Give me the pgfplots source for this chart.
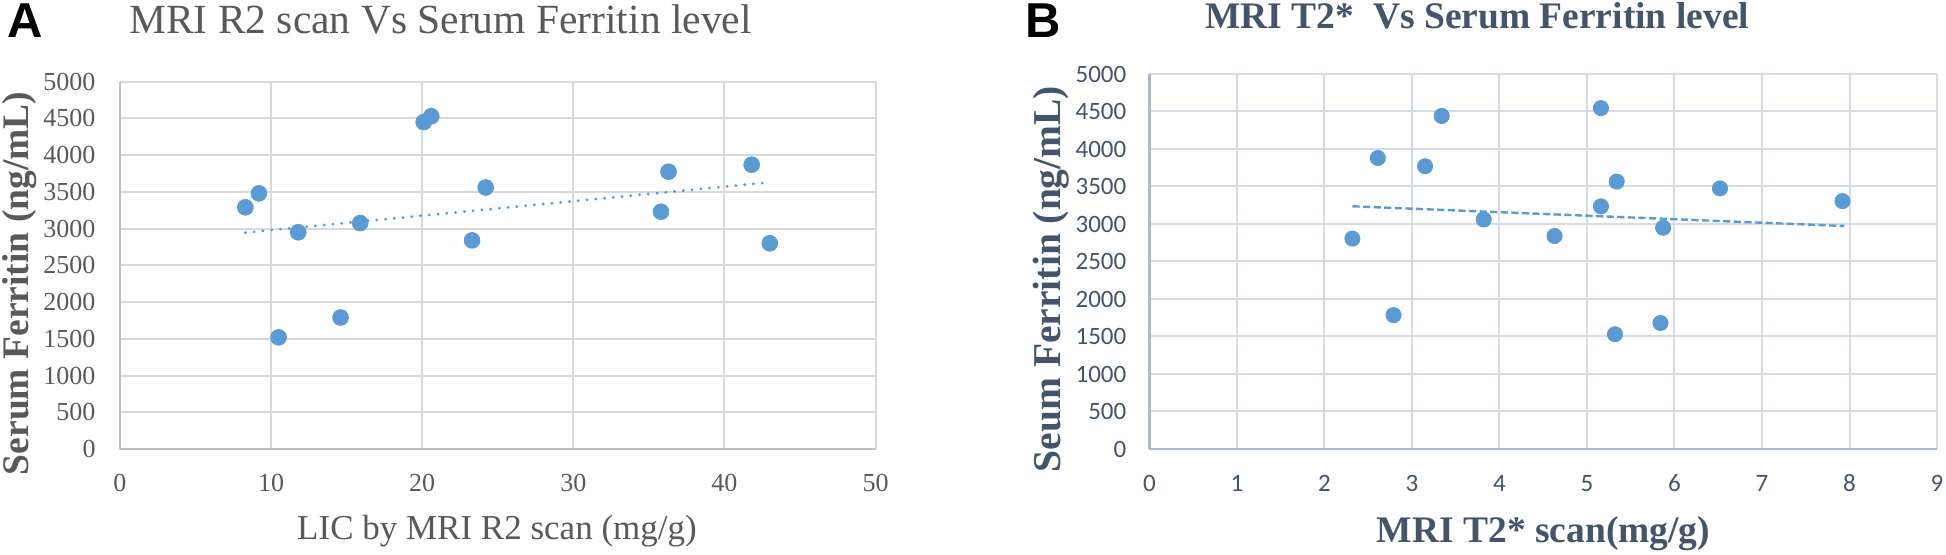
\documentclass[border=0pt]{standalone}
\usepackage{pgfplots}
\pgfplotsset{compat=1.18}
\usepackage{fontspec}
\setmainfont{Liberation Serif}
\newfontfamily\lsans{Liberation Sans}
\newfontfamily\carlito{Carlito}
\definecolor{agray}{HTML}{595959}
\definecolor{agrid}{HTML}{D9D9D9}
\definecolor{aaxis}{HTML}{BFBFBF}
\definecolor{slate}{HTML}{44546A}
\definecolor{bgrid}{HTML}{D6DCE5}
\definecolor{baxis}{HTML}{ADB9CA}
\definecolor{dotblue}{HTML}{5B9BD5}
\begin{document}
\begin{tikzpicture}
% ---------------- Panel A ----------------
\begin{axis}[at={(59.95pt,53pt)}, anchor=south west, scale only axis,
  width=377.85pt, height=183.65pt,
  xmin=0, xmax=50, ymin=0, ymax=5000,
  xtick={0,10,...,50}, ytick={0,500,...,5000},
  axis lines*=left, axis line style={aaxis, line width=1.2pt},
  grid=major, major grid style={agrid, line width=1pt},
  tick style={draw=none}, major tick length=0pt,
  /pgf/number format/assume math mode=true, /pgf/number format/1000 sep={},
  ticklabel style={font=\fontsize{13}{13}\selectfont, text=agray, inner sep=0pt},
  xticklabel style={anchor=center, yshift=-17.15pt},
  yticklabel style={anchor=east, xshift=-12pt},
  clip=false]
\addplot[only marks, mark=*, mark size=3.95pt, color=dotblue, mark options={draw=dotblue, fill=dotblue}]
  coordinates {(8.3,3290) (9.2,3480) (11.8,2950) (15.9,3075) (20.1,4450) (20.6,4530)
  (24.2,3560) (23.3,2840) (35.8,3230) (36.3,3775) (41.8,3870) (43.0,2800)
  (10.5,1520) (14.6,1790)};
\addplot[dotblue, line width=1.6pt, line cap=round, dash pattern=on 0pt off 4.4pt]
  coordinates {(8.3,2946) (43.0,3630)};
\end{axis}
% ---------------- Panel B ----------------
\begin{axis}[at={(574.7pt,53pt)}, anchor=south west, scale only axis,
  width=393.8pt, height=187.5pt,
  xmin=0, xmax=9, ymin=0, ymax=5000,
  xtick={0,1,...,9}, ytick={0,500,...,5000},
  axis lines*=left, axis line style={baxis, line width=1.2pt},
  grid=major, major grid style={bgrid, line width=1pt},
  tick style={draw=none}, major tick length=0pt,
  /pgf/number format/assume math mode=true, /pgf/number format/1000 sep={},
  ticklabel style={font=\carlito\fontsize{12.5}{12.5}\selectfont, text=slate, inner sep=0pt},
  xticklabel style={anchor=center, yshift=-17.15pt},
  yticklabel style={anchor=east, xshift=-11.35pt},
  clip=false]
\addplot[only marks, mark=*, mark size=3.8pt, color=dotblue, mark options={draw=dotblue, fill=dotblue}]
  coordinates {(2.32,2805) (2.61,3880) (2.79,1785) (3.15,3770) (3.34,4440) (3.82,3060)
  (4.63,2840) (5.16,4545) (5.16,3235) (5.34,3565) (5.32,1530) (5.87,2950)
  (5.84,1680) (6.52,3475) (7.92,3305)};
\addplot[dotblue, line width=1.2pt, dash pattern=on 3.6pt off 1.7pt]
  coordinates {(2.32,3236) (7.94,2973)};
\end{axis}
% ---------------- Texts ----------------
\node[inner sep=0pt, anchor=center, font=\lsans\bfseries\fontsize{24.5}{24.5}\selectfont] at (12.75pt,267.1pt) {A};
\node[inner sep=0pt, anchor=center, font=\lsans\bfseries\fontsize{24.5}{24.5}\selectfont] at (521.5pt,267.1pt) {B};
\node[inner sep=0pt, anchor=base west, text=agray, font=\fontsize{20.75}{20.75}\selectfont] at (64.5pt,260.85pt) {MRI R2 scan Vs Serum Ferritin level};
\node[inner sep=0pt, anchor=base, text=agray, font=\fontsize{17.5}{17.5}\selectfont] at (248.5pt,7.5pt) {LIC by MRI R2 scan (mg/g)};
\node[inner sep=0pt, anchor=base, rotate=90, text=agray, font=\bfseries\fontsize{18.75}{18.75}\selectfont] at (14.15pt,135.8pt) {Serum Ferritin (ng/mL)};
\node[inner sep=0pt, anchor=base west, text=slate, font=\bfseries\fontsize{18.75}{18.75}\selectfont] at (602.5pt,263.25pt) {MRI T2*~~Vs Serum Ferritin level};
\node[inner sep=0pt, anchor=base, rotate=90, text=slate, font=\bfseries\fontsize{19.75}{19.75}\selectfont] at (530pt,138pt) {Seum Ferritin (ng/mL)};
\node[inner sep=0pt, anchor=base, text=slate, font=\bfseries\fontsize{18.75}{18.75}\selectfont] at (771.75pt,6pt) {MRI T2* scan(mg/g)};
\pgfresetboundingbox
\useasboundingbox (0pt,0pt) rectangle (973pt,277.5pt);
\end{tikzpicture}
\end{document}
